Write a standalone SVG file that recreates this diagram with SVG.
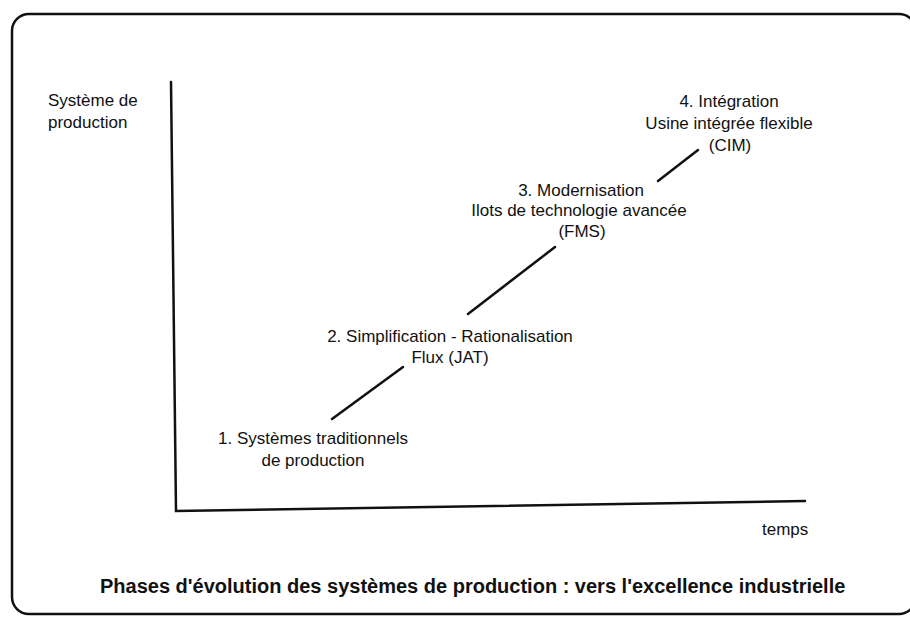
<svg xmlns="http://www.w3.org/2000/svg" width="910" height="621" viewBox="0 0 910 621">
<style>
.t{font-family:"Liberation Sans",Arial,sans-serif;font-size:17px;fill:#111;}
.c{text-anchor:middle;}
.title{font-family:"Liberation Sans",Arial,sans-serif;font-size:20px;font-weight:bold;fill:#111;}
.ln{stroke:#111;stroke-width:2.5;fill:none;stroke-linecap:round;}
</style>
<rect x="12" y="14" width="904" height="600" rx="17" fill="#fff" stroke="#111" stroke-width="2.5"/>
<g id="axes">
<polyline class="ln" points="171,82 176,511 805,501"/>
<text class="t" x="48" y="106">Système de</text>
<text class="t" x="48" y="128">production</text>
<text class="t" x="762" y="535">temps</text>
</g>
<g id="connectors">
<line class="ln" x1="332" y1="419" x2="403" y2="367"/>
<line class="ln" x1="468" y1="314" x2="555" y2="247"/>
<line class="ln" x1="658" y1="181" x2="698" y2="150"/>
</g>
<g id="phase1">
<text class="t c" x="313" y="444">1. Systèmes traditionnels</text>
<text class="t c" x="313" y="466">de production</text>
</g>
<g id="phase2">
<text class="t c" x="450" y="342">2. Simplification - Rationalisation</text>
<text class="t c" x="450" y="363">Flux (JAT)</text>
</g>
<g id="phase3">
<text class="t c" x="581" y="196">3. Modernisation</text>
<text class="t c" x="579" y="216">Ilots de technologie avancée</text>
<text class="t c" x="582" y="237">(FMS)</text>
</g>
<g id="phase4">
<text class="t c" x="729" y="107">4. Intégration</text>
<text class="t c" x="729" y="129">Usine intégrée flexible</text>
<text class="t c" x="730" y="151">(CIM)</text>
</g>
<text class="title" x="100" y="593">Phases d'évolution des systèmes de production : vers l'excellence industrielle</text>
</svg>
